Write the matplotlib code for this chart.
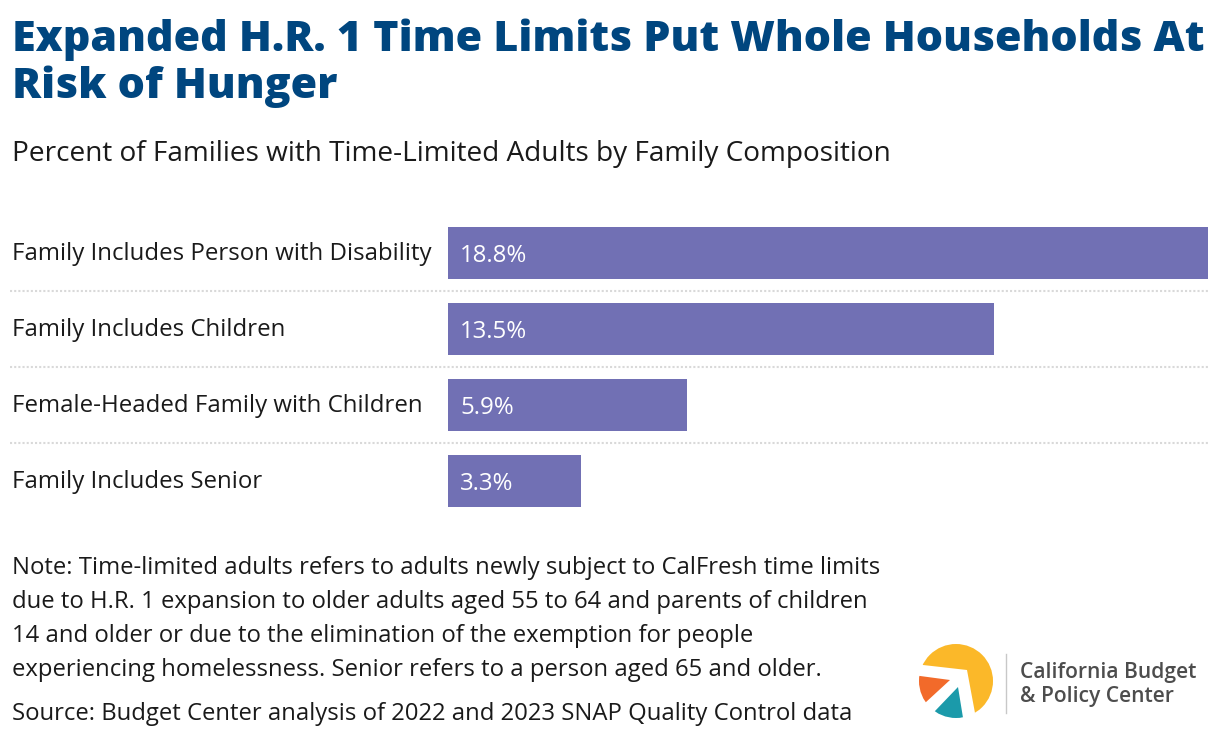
import matplotlib
matplotlib.use("Agg")
import matplotlib.pyplot as plt
from matplotlib.patches import Circle, Polygon
from matplotlib.lines import Line2D

categories = ["Family Includes Person with Disability", "Family Includes Children",
              "Female-Headed Family with Children", "Family Includes Senior"]
values = [18.8, 13.5, 5.9, 3.3]
value_labels = ["18.8%", "13.5%", "5.9%", "3.3%"]

title_lines = ["Expanded H.R. 1 Time Limits Put Whole Households At", "Risk of Hunger"]
subtitle = "Percent of Families with Time-Limited Adults by Family Composition"
note_lines = ["Note: Time-limited adults refers to adults newly subject to CalFresh time limits",
              "due to H.R. 1 expansion to older adults aged 55 to 64 and parents of children",
              "14 and older or due to the elimination of the exemption for people",
              "experiencing homelessness. Senior refers to a person aged 65 and older."]
source = "Source: Budget Center analysis of 2022 and 2023 SNAP Quality Control data"
logo_lines = ["California Budget", "& Policy Center"]

W, H = 1220, 738
fig = plt.figure(figsize=(W / 100, H / 100), dpi=100)
fig.patch.set_facecolor("white")

FONT = "Open Sans"
BAR = "#7170b4"
TITLE_C = "#00467f"
TXT = "#1a1a1a"


def fx(x):
    return x / W


def fy(y):
    return 1 - y / H


renderer = fig.canvas.get_renderer()


def fit(t, width):
    bb = t.get_window_extent(renderer=renderer)
    t.set_fontsize(t.get_fontsize() * width / bb.width)


# Title
t1 = fig.text(fx(12), fy(51), title_lines[0], fontsize=29, fontweight=800,
              color=TITLE_C, family=FONT, va="baseline", ha="left")
fit(t1, 1195)
fig.text(fx(12), fy(98), title_lines[1], fontsize=t1.get_fontsize(), fontweight=800,
         color=TITLE_C, family=FONT, va="baseline", ha="left")

# Subtitle
st = fig.text(fx(12), fy(161), subtitle, fontsize=20, color=TXT, family=FONT,
              va="baseline", ha="left")
fit(st, 878)

# Bars axes: 4 slots of 76 px, from y=215 to y=519
ax = fig.add_axes([fx(448), fy(519), (1208 - 448) / W, (519 - 215) / H])
n = len(values)
ypos = list(range(n))
ax.barh(ypos, values, height=52 / 76, color=BAR, left=0)
ax.set_xlim(0, max(values))
ax.set_ylim(n - 0.5, -0.5)
ax.axis("off")

lab_size = None
for i, (c, v, vl) in enumerate(zip(categories, values, value_labels)):
    tl = ax.text((12 - 448) / 760 * max(values), i + 7 / 76, c, fontsize=17, color=TXT,
                 family=FONT, va="baseline", ha="left")
    if i == 0:
        fit(tl, 418)
        lab_size = tl.get_fontsize()
    else:
        tl.set_fontsize(lab_size)
    ax.text(12 / 760 * max(values), i + 9 / 76, vl, fontsize=lab_size, color="white",
            family=FONT, va="baseline", ha="left")

for i in range(n - 1):
    ax.axhline(i + 0.5, xmin=(10 - 448) / 760, xmax=1.0, color="#d9d9d9", lw=1.5,
               linestyle=(0, (1, 1)), clip_on=False)

# Notes
y0 = 574
nt = None
for k, line in enumerate(note_lines):
    t = fig.text(fx(12), fy(y0 + 34 * k), line, fontsize=17, color=TXT, family=FONT,
                 va="baseline", ha="left")
    if k == 0:
        fit(t, 869)
        nt = t.get_fontsize()
    else:
        t.set_fontsize(nt)
fig.text(fx(12), fy(720), source, fontsize=nt, color=TXT, family=FONT,
         va="baseline", ha="left")

# Logo
lax = fig.add_axes([fx(900), fy(738), 100 / W, 108 / H])
lax.set_xlim(900, 1000)
lax.set_ylim(738, 630)
lax.axis("off")
cx, cy, r = 956, 681, 37
clip = Circle((cx, cy), r, transform=lax.transData)
lax.add_patch(Circle((cx, cy), r, color="#fbb829", lw=0))
white = Polygon([(923, 665), (967, 670), (975, 713), (960, 740), (880, 740), (880, 660)],
                closed=True, color="white", lw=0)
lax.add_patch(white)
orange = Polygon([(900, 673.3), (950, 680), (910, 716.8), (900, 716.8)], closed=True,
                 color="#f26a2a", lw=0)
lax.add_patch(orange)
orange.set_clip_path(clip)
teal = Polygon([(958, 687), (916.8, 730), (965, 730)], closed=True, color="#1b9aaa", lw=0)
lax.add_patch(teal)
teal.set_clip_path(clip)
fig.add_artist(Line2D([fx(1006), fx(1006)], [fy(654), fy(713)], color="#c8c8c8", lw=1))
lt = fig.text(fx(1020), fy(678), logo_lines[0], fontsize=15, color="#4d4d4d",
              family=FONT, fontweight=600, va="baseline", ha="left")
fit(lt, 176)
fig.text(fx(1020), fy(702), logo_lines[1], fontsize=lt.get_fontsize(), color="#4d4d4d",
         family=FONT, fontweight=600, va="baseline", ha="left")

fig.savefig("out.png", dpi=100, facecolor="white")
